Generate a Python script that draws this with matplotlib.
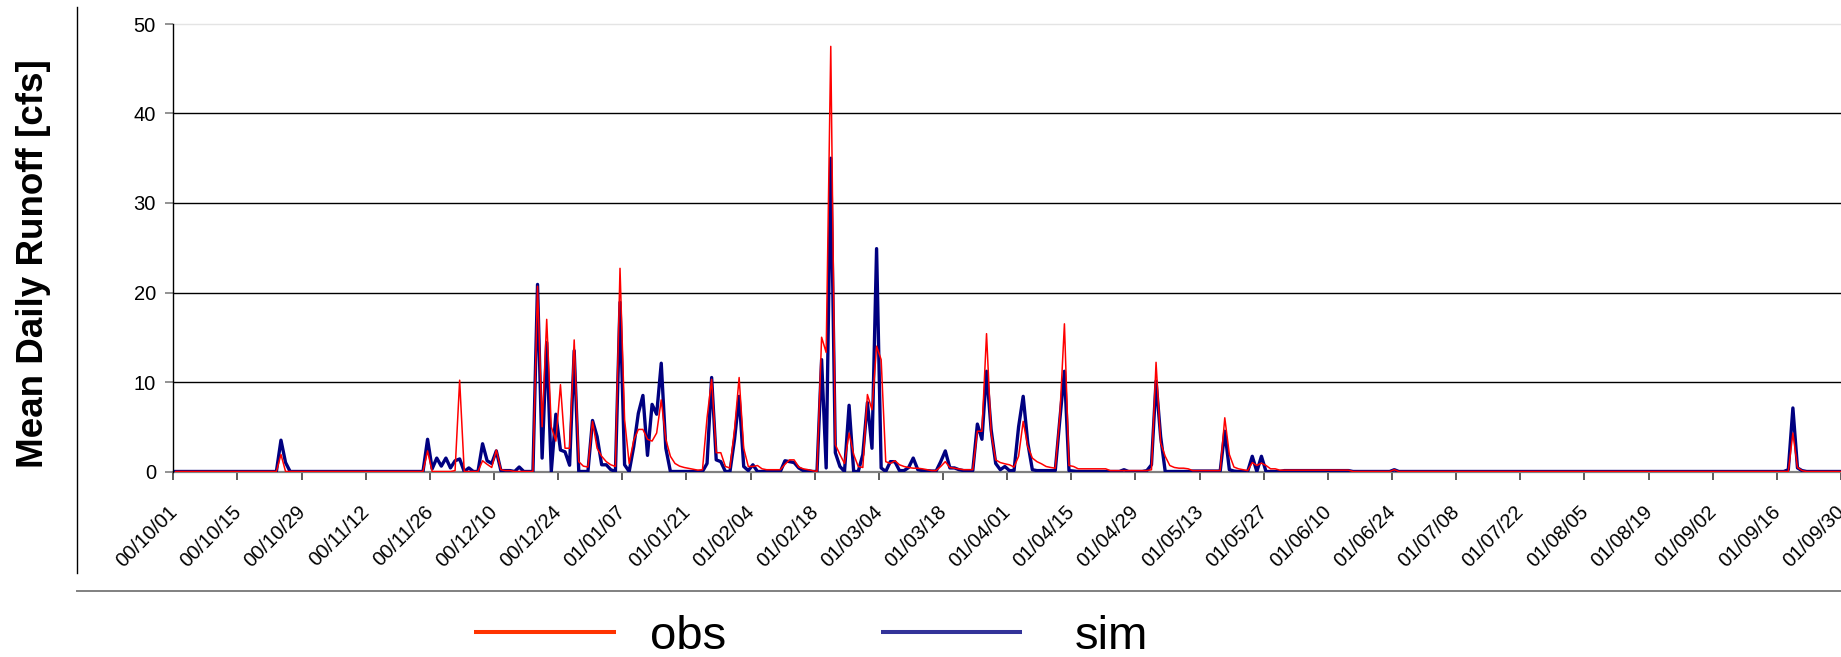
import numpy as np
import pandas as pd
import matplotlib
matplotlib.use("Agg")
import matplotlib.pyplot as plt
import matplotlib.dates as mdates
import matplotlib.transforms as mtransforms
from matplotlib.lines import Line2D

plt.rcParams['font.family'] = ['Liberation Sans', 'DejaVu Sans']

# ---- data: mean daily runoff [cfs], water year 2000/10/01 - 2001/09/30 ----
obs_oct = [0, 0, 0, 0, 0, 0, 0, 0, 0, 0, 0, 0, 0, 0, 0, 0, 0, 0, 0, 0,
           0, 0, 0, 1.9, 0, 0, 0, 0, 0, 0, 0]
sim_oct = [0, 0, 0, 0, 0, 0, 0, 0, 0, 0, 0, 0, 0, 0, 0, 0, 0, 0, 0, 0,
           0, 0, 0, 3.5, 1.0, 0, 0, 0, 0, 0, 0]
obs_nov = [0, 0, 0, 0, 0, 0, 0, 0, 0, 0, 0, 0, 0, 0, 0, 0, 0, 0, 0, 0,
           0, 0, 0, 0, 2.3, 0, 0, 0, 0, 0]
sim_nov = [0, 0, 0, 0, 0, 0, 0, 0, 0, 0, 0, 0, 0, 0, 0, 0, 0, 0, 0, 0,
           0, 0, 0, 0, 3.6, 0.3, 1.5, 0.6, 1.5, 0.4]
obs_dec = [0.1, 10.2, 0, 0, 0, 0, 1.2, 0.8, 0.45, 2.4, 0.2, 0.1, 0.1, 0, 0, 0,
           0, 0, 20.7, 5.0, 17.0, 5.0, 3.4, 9.7, 2.6, 2.6, 14.7, 1.1, 0.6, 0.5, 5.6]
sim_dec = [1.2, 1.4, 0, 0.4, 0, 0, 3.1, 1.2, 0.9, 2.3, 0.1, 0.1, 0.1, 0, 0.5, 0,
           0, 0, 20.9, 1.5, 14.4, 0, 6.4, 2.4, 2.2, 0.7, 13.5, 0, 0, 0, 5.7]
obs_jan = [2.6, 1.7, 1.1, 0.75, 0.56, 22.7, 5.8, 0.9, 3.5, 4.7, 4.7, 3.6, 3.4, 4.3,
           8.0, 3.6, 1.7, 0.9, 0.6, 0.45, 0.35, 0.25, 0.15, 0.2, 6.0, 10.3, 2.1,
           2.1, 0.56, 0.4, 4.7]
sim_jan = [3.9, 0.75, 0.75, 0.2, 0, 18.9, 0.75, 0, 2.8, 6.5, 8.5, 1.8, 7.5, 6.4,
           12.1, 2.6, 0, 0, 0, 0, 0, 0, 0, 0, 0.9, 10.5, 1.3, 1.1, 0, 0, 3.6]
obs_feb = [10.5, 2.6, 0.56, 0.56, 0.67, 0.3, 0.2, 0.2, 0.2, 0.2, 0.8, 1.3, 1.3, 0.5,
           0.3, 0.2, 0.1, 0, 15.0, 13.3, 47.5, 3.0, 1.9, 0.9, 4.3, 1.9, 0.56, 0.45]
sim_feb = [8.4, 0.56, 0.1, 0.75, 0, 0, 0, 0, 0, 0, 1.2, 1.1, 1.0, 0.4,
           0.1, 0.1, 0, 0, 12.5, 0.4, 35.0, 2.1, 0.56, 0, 7.4, 0, 0, 1.9]
obs_mar = [8.6, 6.9, 14.0, 12.5, 1.1, 0.9, 1.2, 0.75, 0.56, 0.45, 0.37, 0.37, 0.3,
           0.2, 0.1, 0.1, 0.56, 1.1, 0.45, 0.37, 0.3, 0.2, 0.2, 0.2, 4.5, 4.5, 15.4,
           4.3, 1.3, 1.0, 0.86]
sim_mar = [7.7, 2.6, 24.9, 0.4, 0, 1.1, 1.1, 0.1, 0.1, 0.45, 1.5, 0.2, 0.1, 0.1,
           0.05, 0.05, 1.1, 2.3, 0.4, 0.4, 0.2, 0.1, 0.1, 0.1, 5.3, 3.6, 11.2, 4.7,
           0.9, 0.2, 0.56]
obs_apr = [0.75, 0.5, 1.7, 5.6, 2.8, 1.5, 1.1, 0.86, 0.56, 0.45, 0.37, 6.2, 16.5,
           0.67, 0.56, 0.3, 0.3, 0.3, 0.3, 0.3, 0.3, 0.3, 0.1, 0.1, 0.1, 0.1, 0.1,
           0.1, 0.1, 0.1]
sim_apr = [0.1, 0.1, 5.0, 8.4, 3.2, 0.2, 0.1, 0.1, 0.1, 0.1, 0.1, 5.8, 11.2, 0.1,
           0.05, 0, 0, 0, 0, 0, 0, 0, 0, 0, 0, 0.2, 0, 0, 0, 0]
obs_may = [0.1, 0.2, 12.2, 3.2, 1.7, 0.67, 0.45, 0.37, 0.37, 0.3, 0.1, 0.1, 0.1,
           0.1, 0.1, 0.1, 0.1, 6.0, 1.9, 0.5, 0.3, 0.2, 0.1, 1.0, 0.67, 0.94, 0.67,
           0.3, 0.3, 0.15, 0.15]
sim_may = [0.1, 0.75, 10.1, 3.9, 0, 0, 0, 0, 0, 0, 0.05, 0.05, 0.05, 0.05, 0.05,
           0.05, 0.05, 4.5, 0.2, 0.05, 0, 0, 0, 1.7, 0, 1.7, 0, 0, 0, 0, 0.1]
obs_jun = [0.15, 0.15, 0.15, 0.15, 0.15, 0.15, 0.15, 0.15, 0.15, 0.15, 0.15, 0.15,
           0.15, 0.15, 0, 0, 0, 0, 0, 0, 0, 0, 0, 0.2, 0, 0, 0, 0, 0, 0]
sim_jun = [0.1, 0.1, 0.1, 0.1, 0.1, 0.1, 0.1, 0.1, 0.1, 0.1, 0.1, 0.1,
           0.1, 0.1, 0, 0, 0, 0, 0, 0, 0, 0, 0, 0.2, 0, 0, 0, 0, 0, 0]
obs_jul = [0, 0, 0, 0, 0, 0, 0, 0, 0, 0, 0, 0, 0, 0, 0, 0, 0, 0, 0, 0,
           0, 0, 0, 0, 0, 0, 0, 0, 0, 0, 0]
sim_jul = [0, 0, 0, 0, 0, 0, 0, 0, 0, 0, 0, 0, 0, 0, 0, 0, 0, 0, 0, 0,
           0, 0, 0, 0, 0, 0, 0, 0, 0, 0, 0]
obs_aug = [0, 0, 0, 0, 0, 0, 0, 0, 0, 0, 0, 0, 0, 0, 0, 0, 0, 0, 0, 0,
           0, 0, 0, 0, 0, 0, 0, 0, 0, 0, 0]
sim_aug = [0, 0, 0, 0, 0, 0, 0, 0, 0, 0, 0, 0, 0, 0, 0, 0, 0, 0, 0, 0,
           0, 0, 0, 0, 0, 0, 0, 0, 0, 0, 0]
obs_sep = [0, 0, 0, 0, 0, 0, 0, 0, 0, 0, 0, 0, 0, 0, 0, 0, 0, 0, 4.3, 0.45,
           0.1, 0, 0, 0, 0, 0, 0, 0, 0, 0]
sim_sep = [0, 0, 0, 0, 0, 0, 0, 0, 0, 0, 0, 0, 0, 0, 0, 0, 0, 0.2, 7.1, 0.4,
           0.1, 0, 0, 0, 0, 0, 0, 0, 0, 0]

start_date = "2000-10-01"
end_date = "2001-09-30"
tick_step_days = 14
series_labels = ["obs", "sim"]
y_label = "Mean Daily Runoff [cfs]"
y_ticks = [0, 10, 20, 30, 40, 50]

obs = np.concatenate([obs_oct, obs_nov, obs_dec, obs_jan, obs_feb, obs_mar,
                      obs_apr, obs_may, obs_jun, obs_jul, obs_aug, obs_sep])
sim = np.concatenate([sim_oct, sim_nov, sim_dec, sim_jan, sim_feb, sim_mar,
                      sim_apr, sim_may, sim_jun, sim_jul, sim_aug, sim_sep])
dates = pd.date_range(start_date, end_date, freq="D")
xnum = mdates.date2num(dates.to_pydatetime()) + 0.5   # points centred in each day

# ---- figure ----
W, H = 1841, 657
DPI = 100
fig = plt.figure(figsize=(W / DPI, H / DPI), dpi=DPI)
fig.patch.set_facecolor("white")

left_px, zero_px, top_px = 173.3, 471.5, 24.0
ax = fig.add_axes([left_px / W, (H - zero_px) / H, 1 - left_px / W,
                   (zero_px - top_px) / H])

x0 = mdates.date2num(pd.Timestamp(start_date).to_pydatetime())
x1 = mdates.date2num(pd.Timestamp(end_date).to_pydatetime())
ax.set_xlim(x0, x1)
ax.set_ylim(0, 50)

for yv in y_ticks[1:-1]:
    ax.axhline(yv, color="black", lw=1.0, zorder=1)
ax.axhline(50, color="#e4e4e4", lw=1.0, zorder=1, clip_on=False)

ax.plot(xnum, sim, color="#000080", lw=2.4, zorder=3)
ax.plot(xnum, obs, color="#ff0000", lw=1.1, zorder=4)

for s in ["top", "right"]:
    ax.spines[s].set_visible(False)
ax.spines["left"].set_color("black")
ax.spines["left"].set_linewidth(1.0)
ax.spines["bottom"].set_color("#808080")
ax.spines["bottom"].set_linewidth(1.6)
ax.spines["bottom"].set_zorder(2)

ticks = pd.date_range(start_date, end_date, freq=f"{tick_step_days}D")
tick_nums = mdates.date2num(ticks.to_pydatetime())
tick_labels = [d.strftime("%y/%m/%d") for d in ticks]
ax.set_xticks(tick_nums)
ax.set_xticklabels([])
ax.set_yticks(y_ticks)
ax.set_yticklabels([str(v) for v in y_ticks])

ax.tick_params(axis="y", direction="out", length=5.5, width=1.2,
               color="#808080", labelsize=14.5, pad=7)
ax.tick_params(axis="x", direction="out", length=5.5, width=1.2,
               color="#404040")

# rotated date labels below the axis
lab_trans = (mtransforms.blended_transform_factory(ax.transData, ax.transAxes)
             + mtransforms.ScaledTranslation(-6 / DPI, -31 / DPI, fig.dpi_scale_trans))
for xv, lab in zip(tick_nums, tick_labels):
    ax.text(xv, 0, lab, transform=lab_trans, rotation=45, rotation_mode="anchor",
            ha="right", va="top", fontsize=14.5, clip_on=False)

# outer chart-area frame lines
fig.add_artist(Line2D([76.7 / W, 76.7 / W], [(H - 7) / H, (H - 573) / H],
                      transform=fig.transFigure, color="black", lw=1.0))
fig.add_artist(Line2D([76.7 / W, 1.0], [(H - 590.7) / H, (H - 590.7) / H],
                      transform=fig.transFigure, color="#808080", lw=1.4))

# y label
fig.text(34 / W, (H - 264) / H, y_label, rotation=90, ha="center", va="center",
         fontsize=26.5, fontweight="bold", color="black")

# legend (manual, below the frame)
leg_y = (H - 632.3) / H
fig.add_artist(Line2D([474 / W, 615.7 / W], [leg_y, leg_y], transform=fig.transFigure,
                      color="#ff3300", lw=2.9, solid_capstyle="butt"))
fig.text(649.5 / W, (H - 649) / H, series_labels[0], fontsize=34, va="baseline",
         ha="left")
fig.add_artist(Line2D([880.7 / W, 1022.3 / W], [leg_y, leg_y], transform=fig.transFigure,
                      color="#333399", lw=2.9, solid_capstyle="butt"))
fig.text(1074.5 / W, (H - 649) / H, series_labels[1], fontsize=34, va="baseline",
         ha="left")

fig.savefig("out.png", dpi=DPI, facecolor="white")
